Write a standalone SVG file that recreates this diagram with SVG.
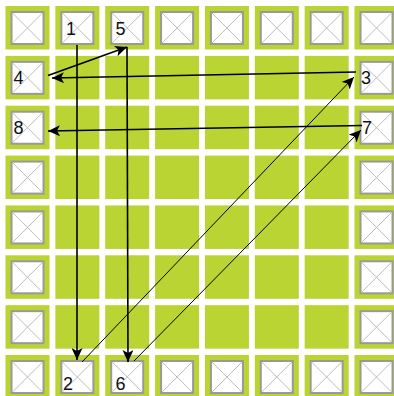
<svg xmlns="http://www.w3.org/2000/svg" xmlns:xlink="http://www.w3.org/1999/xlink" width="394" height="396" viewBox="0 0 394 396">
<style>
.cell{fill:#b9d433}
.box{fill:#ffffff;stroke:#999999;stroke-width:2}
.x{stroke:#bdbdbd;stroke-width:1;fill:none}
.lbl{font-family:"Liberation Sans",Arial,sans-serif;font-size:18px;fill:#111111}
.c{stroke:#000000;fill:none}
.thick{stroke-width:1.6}
.thin{stroke-width:1}
</style>
<defs>
<marker id="ah" markerUnits="userSpaceOnUse" markerWidth="12" markerHeight="11" refX="12" refY="5.5" orient="auto">
<path d="M0,0 L12,5.5 L0,11 L3,5.5 Z" fill="#000000"/>
</marker>
<g id="g"><rect class="cell" x="0" y="0" width="44" height="43.5"/></g>
<g id="p"><rect class="cell" x="0" y="0" width="44" height="43.5"/><rect class="box" x="6" y="6" width="32" height="32"/><path class="x" d="M7,7 L37,37 M37,7 L7,37"/></g>
</defs>
<rect x="0" y="0" width="394" height="396" fill="#ffffff"/>
<g id="background">
<use xlink:href="#p" x="5.5" y="6"/>
<use xlink:href="#p" x="155.08" y="6"/>
<use xlink:href="#p" x="204.94" y="6"/>
<use xlink:href="#p" x="254.8" y="6"/>
<use xlink:href="#p" x="304.66" y="6"/>
<use xlink:href="#p" x="354.52" y="6"/>
<use xlink:href="#p" x="5.5" y="155.58"/>
<use xlink:href="#p" x="5.5" y="205.44"/>
<use xlink:href="#p" x="5.5" y="255.3"/>
<use xlink:href="#p" x="5.5" y="305.16"/>
<use xlink:href="#p" x="5.5" y="355.02"/>
<use xlink:href="#p" x="354.52" y="155.58"/>
<use xlink:href="#p" x="354.52" y="205.44"/>
<use xlink:href="#p" x="354.52" y="255.3"/>
<use xlink:href="#p" x="354.52" y="305.16"/>
<use xlink:href="#p" x="354.52" y="355.02"/>
<use xlink:href="#p" x="155.08" y="355.02"/>
<use xlink:href="#p" x="204.94" y="355.02"/>
<use xlink:href="#p" x="254.8" y="355.02"/>
<use xlink:href="#p" x="304.66" y="355.02"/>
<use xlink:href="#g" x="55.36" y="55.86"/><use xlink:href="#g" x="105.22" y="55.86"/><use xlink:href="#g" x="155.08" y="55.86"/><use xlink:href="#g" x="204.94" y="55.86"/><use xlink:href="#g" x="254.8" y="55.86"/><use xlink:href="#g" x="304.66" y="55.86"/>
<use xlink:href="#g" x="55.36" y="105.72"/><use xlink:href="#g" x="105.22" y="105.72"/><use xlink:href="#g" x="155.08" y="105.72"/><use xlink:href="#g" x="204.94" y="105.72"/><use xlink:href="#g" x="254.8" y="105.72"/><use xlink:href="#g" x="304.66" y="105.72"/>
<use xlink:href="#g" x="55.36" y="155.58"/><use xlink:href="#g" x="105.22" y="155.58"/><use xlink:href="#g" x="155.08" y="155.58"/><use xlink:href="#g" x="204.94" y="155.58"/><use xlink:href="#g" x="254.8" y="155.58"/><use xlink:href="#g" x="304.66" y="155.58"/>
<use xlink:href="#g" x="55.36" y="205.44"/><use xlink:href="#g" x="105.22" y="205.44"/><use xlink:href="#g" x="155.08" y="205.44"/><use xlink:href="#g" x="204.94" y="205.44"/><use xlink:href="#g" x="254.8" y="205.44"/><use xlink:href="#g" x="304.66" y="205.44"/>
<use xlink:href="#g" x="55.36" y="255.3"/><use xlink:href="#g" x="105.22" y="255.3"/><use xlink:href="#g" x="155.08" y="255.3"/><use xlink:href="#g" x="204.94" y="255.3"/><use xlink:href="#g" x="254.8" y="255.3"/><use xlink:href="#g" x="304.66" y="255.3"/>
<use xlink:href="#g" x="55.36" y="305.16"/><use xlink:href="#g" x="105.22" y="305.16"/><use xlink:href="#g" x="155.08" y="305.16"/><use xlink:href="#g" x="204.94" y="305.16"/><use xlink:href="#g" x="254.8" y="305.16"/><use xlink:href="#g" x="304.66" y="305.16"/>
</g>
<g id="n1"><use xlink:href="#p" x="55.36" y="6"/><text class="lbl" x="66" y="34.5">1</text></g>
<g id="n5"><use xlink:href="#p" x="105.22" y="6"/><text class="lbl" x="115.5" y="34.5">5</text></g>
<g id="n4"><use xlink:href="#p" x="5.5" y="55.86"/><text class="lbl" x="13.5" y="83.5">4</text></g>
<g id="n3"><use xlink:href="#p" x="354.52" y="55.86"/><text class="lbl" x="361" y="84">3</text></g>
<g id="n8"><use xlink:href="#p" x="5.5" y="105.72"/><text class="lbl" x="13.5" y="134">8</text></g>
<g id="n7"><use xlink:href="#p" x="354.52" y="105.72"/><text class="lbl" x="362" y="134">7</text></g>
<g id="n2"><use xlink:href="#p" x="55.36" y="355.02"/><text class="lbl" x="63" y="390">2</text></g>
<g id="n6"><use xlink:href="#p" x="105.22" y="355.02"/><text class="lbl" x="115.5" y="390">6</text></g>
<g id="connectors">
<line class="c thick" x1="77" y1="45" x2="77" y2="360" marker-end="url(#ah)"/>
<line class="c thick" x1="127" y1="47" x2="128" y2="362" marker-end="url(#ah)"/>
<line class="c thick" x1="48" y1="75.5" x2="127" y2="47" marker-end="url(#ah)"/>
<line class="c thick" x1="356" y1="72" x2="52" y2="78" marker-end="url(#ah)"/>
<line class="c thick" x1="362" y1="125.5" x2="48" y2="131" marker-end="url(#ah)"/>
<line class="c thin" x1="82" y1="362" x2="354" y2="77" marker-end="url(#ah)"/>
<line class="c thin" x1="134" y1="361" x2="361" y2="130" marker-end="url(#ah)"/>
</g>
</svg>
